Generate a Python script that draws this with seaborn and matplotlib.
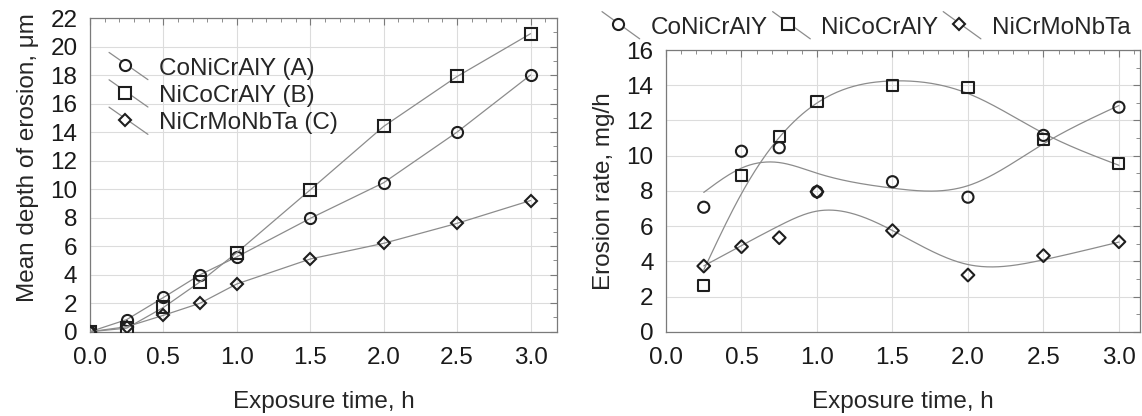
import numpy as np
import pandas as pd
import matplotlib
matplotlib.use("Agg")
import matplotlib.pyplot as plt
import seaborn as sns
from matplotlib.lines import Line2D
from matplotlib.legend_handler import HandlerBase
from matplotlib.ticker import MultipleLocator, FormatStrFormatter

# ---------------- data ----------------
time_depth = [0.0, 0.25, 0.5, 0.75, 1.0, 1.5, 2.0, 2.5, 3.0]
depth_A = [0.0, 0.85, 2.4, 4.0, 5.25, 7.95, 10.45, 14.0, 18.0]
depth_B = [0.0, 0.25, 1.7, 3.5, 5.55, 9.95, 14.4, 17.9, 20.9]
depth_C = [0.0, 0.35, 1.15, 2.0, 3.35, 5.1, 6.2, 7.6, 9.2]
depth_labels = ["CoNiCrAlY (A)", "NiCoCrAlY (B)", "NiCrMoNbTa (C)"]

time_rate = [0.25, 0.5, 0.75, 1.0, 1.5, 2.0, 2.5, 3.0]
rate_A = [7.07, 10.25, 10.45, 7.95, 8.52, 7.64, 11.15, 12.75]
rate_B = [2.61, 8.85, 11.08, 13.05, 13.96, 13.88, 10.9, 9.55]
rate_C = [3.73, 4.83, 5.34, 7.95, 5.74, 3.22, 4.32, 5.11]
rate_labels = ["CoNiCrAlY", "NiCoCrAlY", "NiCrMoNbTa"]

markers = ["o", "s", "D"]
msizes = [8, 8, 6.5]

LINE = "#8c8c8c"
MK = "#1e1e1e"
GRID = "#dcdcdc"
SPINE = "#7a7a7a"
FS = 17.5


def smoothing_spline(x, y, lam, n=300):
    """Natural cubic smoothing spline (Reinsch)."""
    x = np.asarray(x, float)
    y = np.asarray(y, float)
    m = len(x)
    h = np.diff(x)
    Q = np.zeros((m, m - 2))
    R = np.zeros((m - 2, m - 2))
    for j in range(1, m - 1):
        c = j - 1
        Q[j - 1, c] = 1 / h[j - 1]
        Q[j, c] = -1 / h[j - 1] - 1 / h[j]
        Q[j + 1, c] = 1 / h[j]
        R[c, c] = (h[j - 1] + h[j]) / 3
        if c + 1 < m - 2:
            R[c, c + 1] = R[c + 1, c] = h[j] / 6
    gam = np.linalg.solve(R + lam * Q.T @ Q, Q.T @ y)
    g = y - lam * Q @ gam
    gam_full = np.concatenate([[0], gam, [0]])
    t = np.linspace(x[0], x[-1], n)
    out = np.empty_like(t)
    for k, tt in enumerate(t):
        i = min(np.searchsorted(x, tt, side="right") - 1, m - 2)
        a = tt - x[i]
        b = x[i + 1] - tt
        hi = h[i]
        out[k] = (a * g[i + 1] + b * g[i]) / hi - a * b / 6 * (
            (1 + a / hi) * gam_full[i + 1] + (1 + b / hi) * gam_full[i])
    return t, out


class DiagHandler(HandlerBase):
    def create_artists(self, legend, orig_handle, xdescent, ydescent,
                       width, height, fontsize, trans):
        x0, x1 = -xdescent, -xdescent + width
        y0, y1 = -ydescent - 0.3 * height, -ydescent + 1.3 * height
        ln = Line2D([x0, x1], [y1, y0], color=LINE, lw=0.9, transform=trans)
        mk = Line2D([x0 + 0.42 * width], [(y0 + y1) / 2 + 0.05 * height],
                    marker=orig_handle.get_marker(),
                    ms=orig_handle.get_markersize(), mfc="white", mec=MK,
                    mew=1.5, ls="none", transform=trans)
        return [ln, mk]


sns.set_style("white")
plt.rcParams["font.family"] = ["Liberation Sans", "DejaVu Sans"]

fig = plt.figure(figsize=(11.42, 4.16), dpi=100)
ax1 = fig.add_axes([0.0788, 0.2026, 0.4089, 0.7541])
ax2 = fig.add_axes([0.5832, 0.2026, 0.4151, 0.6772])

# ---------- left panel ----------
for vals, mk, ms in zip([depth_A, depth_B, depth_C], markers, msizes):
    df = pd.DataFrame({"t": time_depth, "v": vals})
    sns.lineplot(data=df, x="t", y="v", ax=ax1, color=LINE, lw=0.9,
                 marker=mk, markersize=ms, markerfacecolor="none",
                 markeredgecolor=MK, markeredgewidth=1.5, zorder=3)

ax1.set_xlim(0, 3.18)
ax1.set_ylim(0, 22)
ax1.yaxis.set_major_locator(MultipleLocator(2))
ax1.yaxis.set_minor_locator(MultipleLocator(1))
ax1.set_ylabel("Mean depth of erosion, \u03bcm", fontsize=FS, labelpad=8)
ax1.yaxis.label.set_y(0.554)

# ---------- right panel ----------
for vals, mk, ms in zip([rate_A, rate_B, rate_C], markers, msizes):
    df = pd.DataFrame({"t": time_rate, "v": vals})
    t, s = smoothing_spline(time_rate, vals, 0.01)
    sns.lineplot(x=t, y=s, ax=ax2, color=LINE, lw=0.9, zorder=2)
    sns.scatterplot(data=df, x="t", y="v", ax=ax2, marker=mk, s=ms ** 2,
                    facecolor="none", edgecolor=MK, linewidth=1.5, zorder=3)

ax2.set_xlim(0, 3.14)
ax2.set_ylim(0, 16)
ax2.yaxis.set_major_locator(MultipleLocator(2))
ax2.yaxis.set_minor_locator(MultipleLocator(1))
ax2.set_ylabel("Erosion rate, mg/h", fontsize=FS, labelpad=8)

for ax in (ax1, ax2):
    ax.xaxis.set_major_locator(MultipleLocator(0.5))
    ax.xaxis.set_minor_locator(MultipleLocator(0.1))
    ax.xaxis.set_major_formatter(FormatStrFormatter("%.1f"))
    ax.set_xlabel("Exposure time, h", fontsize=FS, labelpad=16)
    ax.grid(True, which="major", color=GRID, lw=0.8)
    ax.set_axisbelow(True)
    for sp in ax.spines.values():
        sp.set_color(SPINE)
        sp.set_linewidth(0.9)
    ax.tick_params(which="both", direction="in", top=True, right=True,
                   color=SPINE, labelsize=FS, labelcolor="#1a1a1a")
    ax.tick_params(which="minor", length=3)
    ax.tick_params(which="major", length=5)
    ax.tick_params(axis="x", which="major", pad=11)
    ax.tick_params(axis="y", which="major", pad=9)

proxies = [Line2D([], [], marker=m, ms=s, ls="none") for m, s in zip(markers, msizes)]

ax1.legend(proxies, depth_labels, handler_map={Line2D: DiagHandler()},
           loc="upper left", bbox_to_anchor=(0.02, 0.905), frameon=False,
           fontsize=FS, handlelength=1.6, handletextpad=0.45,
           labelspacing=0.22, borderaxespad=0)

ax2.legend(proxies, rate_labels, handler_map={Line2D: DiagHandler()},
           loc="lower left", bbox_to_anchor=(-0.135, 1.04), frameon=False,
           fontsize=FS, ncol=3, handlelength=1.55, handletextpad=0.45,
           columnspacing=0.2, borderaxespad=0, borderpad=0)

fig.savefig("out.png", dpi=100)
